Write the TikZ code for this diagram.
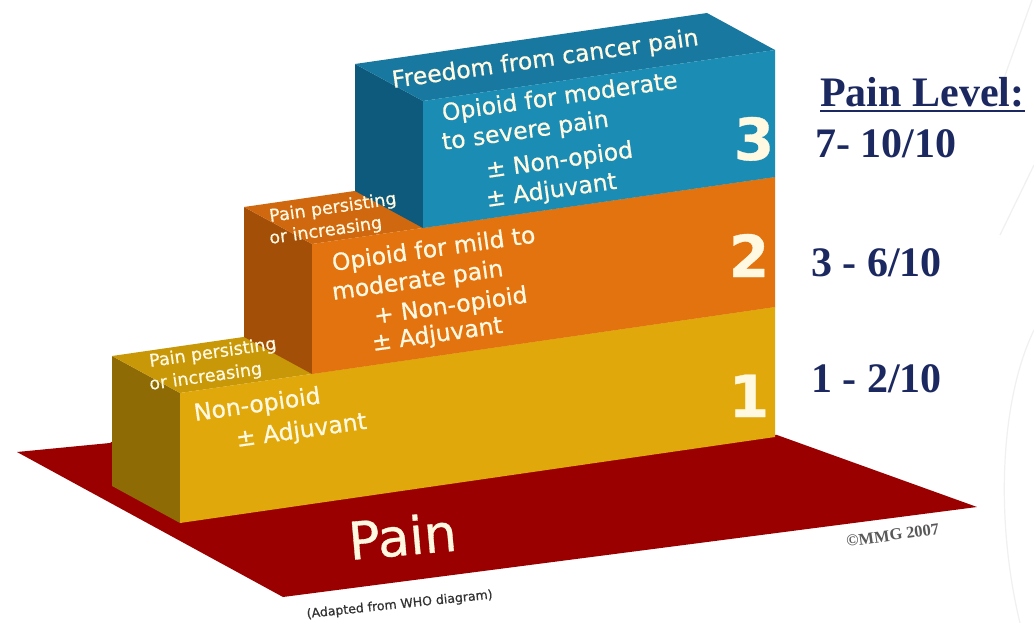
\documentclass[tikz,border=0pt]{standalone}
\usepackage{fontspec}
\setmainfont{DejaVu Sans}
\newfontfamily\comicf[FakeBold=0.6]{DejaVu Sans}
\newfontfamily\serifb{Liberation Serif}
\definecolor{bfront}{HTML}{1B8CB4}
\definecolor{btop}{HTML}{1878A0}
\definecolor{bside}{HTML}{0E5A7C}
\definecolor{ofront}{HTML}{E2730F}
\definecolor{otop}{HTML}{CF680E}
\definecolor{oside}{HTML}{A44F08}
\definecolor{yfront}{HTML}{E1A80B}
\definecolor{ytop}{HTML}{C99808}
\definecolor{yside}{HTML}{8E6B05}
\definecolor{floorred}{HTML}{9A0000}
\definecolor{cream}{HTML}{FFF9E2}
\definecolor{navy}{HTML}{1C2960}
\begin{document}
\begin{tikzpicture}[x=1pt,y=-1pt,
  lbl/.style={text=cream, font=\comicf, anchor=base west, rotate=8, inner sep=0pt},
  flab/.style={lbl, font=\comicf\fontsize{23.5}{23.5}\selectfont},
  tlab/.style={lbl, font=\comicf\fontsize{17.5}{17.5}\selectfont},
  num/.style={text=cream, font=\comicf\bfseries\fontsize{58}{58}\selectfont, anchor=base, inner sep=0pt},
  lvl/.style={text=navy, font=\serifb\bfseries\fontsize{42}{42}\selectfont, anchor=base west, inner sep=0pt},
  faint/.style={draw=gray!12, line width=1.2pt}]
\useasboundingbox (0,0) rectangle (1034,623);
\fill[white] (0,0) rectangle (1034,623);
% faint background lines
\draw[faint] (1032,0) -- (998,95);
\draw[faint] (1034,165) -- (1000,235);
\draw[faint] (1034,330) .. controls (1000,400) and (995,520) .. (1020,623);
% floor
\fill[floorred] (17,452) -- (283,597) -- (977,507) -- (777,435) -- (180,400) -- (110,443) -- cycle;
% step 1 (yellow)
\fill[yside] (112,356) -- (180,393) -- (180,523) -- (112,486) -- cycle;
\fill[ytop] (112,356) -- (180,393) -- (775,307) -- (707,270) -- cycle;
\fill[yfront] (180,393) -- (775,307) -- (775,437) -- (180,523) -- cycle;
% step 2 (orange)
\fill[oside] (244,207) -- (312,244) -- (312,374) -- (244,337) -- cycle;
\fill[otop] (244,207) -- (312,244) -- (775,177) -- (707,140) -- cycle;
\fill[ofront] (312,244) -- (775,177) -- (775,307) -- (312,374) -- cycle;
% step 3 (blue)
\fill[bside] (355,64) -- (423,101) -- (423,228) -- (355,191) -- cycle;
\fill[btop] (355,64) -- (423,101) -- (775,50) -- (707,13) -- cycle;
\fill[bfront] (423,101) -- (775,50) -- (775,177) -- (423,228) -- cycle;
% texts on blue
\node[flab] (fr) at (393,88) {Freedom from cancer pain};
\node[flab] (b1) at (443,121) {Opioid for moderate};
\node[flab] (b2) at (443,150) {to severe pain};
\node[flab] (b3) at (487,178) {± Non-opiod};
\node[flab] (b4) at (487,207) {± Adjuvant};
\node[num] (n3) at (754,160) {3};
% texts on orange
\node[tlab] (op1) at (270,222) {Pain persisting};
\node[tlab] (op2) at (270,244) {or increasing};
\node[flab] (o1) at (333,271) {Opioid for mild to};
\node[flab] (o2) at (333,300) {moderate pain};
\node[flab] (o3) at (375,324) {+ Non-opioid};
\node[flab] (o4) at (373,351) {± Adjuvant};
\node[num] (n2) at (749,277) {2};
% texts on yellow
\node[tlab] (yp1) at (150,367) {Pain persisting};
\node[tlab] (yp2) at (150,390) {or increasing};
\node[flab] (y1) at (195,421) {Non-opioid};
\node[flab] (y2) at (237,447) {± Adjuvant};
\node[num] (n1) at (749,417) {1};
% floor texts
\node[text=cream, font=\comicf\fontsize{52}{52}\selectfont, anchor=base west, rotate=5, inner sep=0pt] (pain) at (350,560) {Pain};
\node[text=black!80, font=\comicf\fontsize{12.5}{12.5}\selectfont, anchor=base west, rotate=6, inner sep=0pt] (who) at (307,618) {(Adapted from WHO diagram)};
\node[text=black!65, font=\serifb\bfseries\fontsize{16.5}{16.5}\selectfont, anchor=base west, rotate=8, inner sep=0pt] (mmg) at (847,547) {©MMG 2007};
% pain levels
\node[lvl] (pl) at (820,107) {Pain Level:};
\draw[navy, line width=1.8pt] ([yshift=-4pt]pl.base west) -- ([yshift=-4pt]pl.base east);
\node[lvl] (l3) at (815,158) {7- 10/10};
\node[lvl] (l2) at (811,276) {3 - 6/10};
\node[lvl] (l1) at (811,392) {1 - 2/10};
\end{tikzpicture}
\end{document}
